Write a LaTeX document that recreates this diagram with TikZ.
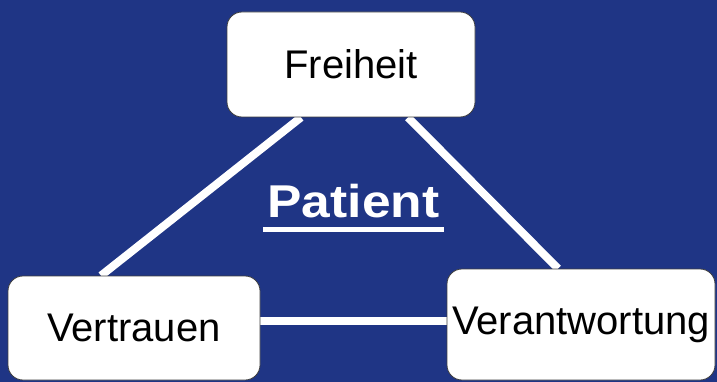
\documentclass[tikz,border=0pt]{standalone}
\usepackage{fontspec}
\setmainfont{Liberation Sans}
\usetikzlibrary{backgrounds}
\definecolor{bgblue}{RGB}{31,53,133}
\tikzset{
  box/.style={draw=black!75, line width=0.8pt, fill=white, rounded corners=15pt, inner sep=0pt,
    font=\fontsize{40}{46}\selectfont, text=black},
  link/.style={draw=white, line width=8pt},
  title/.style={inner sep=0pt, text=white, font=\fontsize{46}{54}\selectfont\bfseries}
}
\begin{document}
\begin{tikzpicture}[x=1pt,y=-1pt]
\useasboundingbox (0,0) rectangle (717,382);
\node[box, minimum width=248pt, minimum height=105pt] (F) at (351,64.5) {Freiheit};
\node[box, minimum width=252pt, minimum height=104pt] (V) at (134,328) {Vertrauen};
\node[box, minimum width=268pt, minimum height=111pt] (R) at (581,324.5) {Verantwortung};
\node[title, anchor=base] (P) at (353.5,217) {\scalebox{1.12}[1]{Patient}};
\draw[white, line width=5pt] ([xshift=-4pt,yshift=-12pt]P.base west) -- ([xshift=4pt,yshift=-12pt]P.base east);
\begin{scope}[on background layer]
\fill[bgblue] (0,0) rectangle (717,382);
\draw[link] ([xshift=-50pt]F.south) -- ([xshift=-33pt]V.north);
\draw[link] ([xshift=57pt]F.south) -- ([xshift=-23pt]R.north);
\draw[link] ([yshift=7pt]V.east) -- ([yshift=3.5pt]R.west);
\end{scope}
\end{tikzpicture}
\end{document}
